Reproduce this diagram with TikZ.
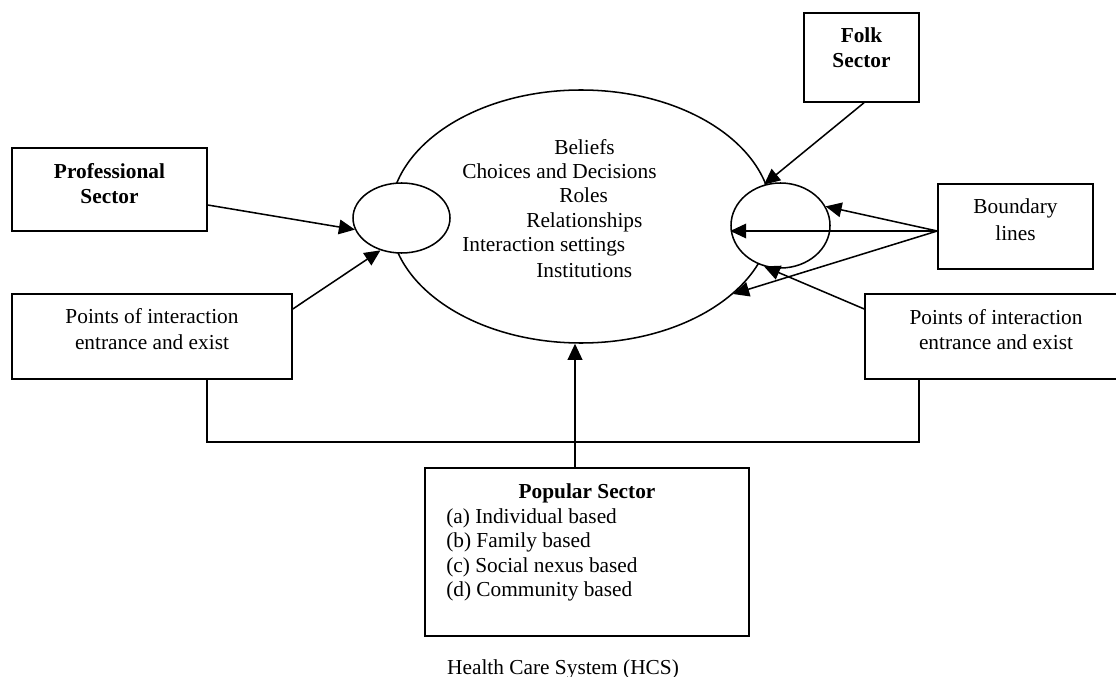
\documentclass[tikz,border=0pt]{standalone}
\usepackage{fontspec}
\setmainfont{Liberation Serif}
\usetikzlibrary{arrows.meta,shapes.geometric}
\begin{document}
\begin{tikzpicture}[x=0.75pt,y=-0.75pt,
  every node/.style={inner sep=0pt, font=\fontsize{16}{18.4}\selectfont},
  box/.style={draw, line width=1.15pt, rectangle},
  oval/.style={draw, line width=1.15pt, ellipse, fill=white},
  lbl/.style={anchor=base},
  lblw/.style={anchor=base west},
  bftext/.style={font=\fontsize{16}{18.4}\selectfont\bfseries},
  arr/.style={line width=1.15pt, -{Triangle[length=12pt,width=11pt]}},
  conn/.style={line width=1.15pt}]
\useasboundingbox (0,0) rectangle (1116,677);
\clip (0,0) rectangle (1116,677);

% ellipses
\node[oval, minimum width=286.5pt, minimum height=189.75pt] (be) at (581,216.5) {};
\node[oval, minimum width=72.75pt, minimum height=52.5pt] (le) at (401.5,218) {};
\node[oval, minimum width=74.25pt, minimum height=63.75pt] (re) at (780.5,225.5) {};

% boxes
\node[box, minimum width=146.25pt, minimum height=62.25pt] (prof) at (109.5,189.5) {};
\node[box, minimum width=210pt, minimum height=63.75pt] (lp) at (152,336.5) {};
\node[box, minimum width=86.25pt, minimum height=66.75pt] (folk) at (861.5,57.5) {};
\node[box, minimum width=116.25pt, minimum height=63.75pt] (bl) at (1015.5,226.5) {};
\node[box, minimum width=196.5pt, minimum height=63.75pt] (rp) at (996,336.5) {};
\node[box, minimum width=243pt, minimum height=126pt] (pop) at (587,552) {};

% texts
\node[lbl, bftext] (prof1) at (109.5,179) {Professional};
\node[lbl, bftext] (prof2) at (109.5,204) {Sector};
\node[lbl, bftext] (folk1) at (861.5,43) {Folk};
\node[lbl, bftext] (folk2) at (861.5,68) {Sector};
\node[lbl] (bl1) at (1015.5,214) {Boundary};
\node[lbl] (bl2) at (1015.5,241) {lines};
\node[lbl] (lp1) at (152,323) {Points of interaction};
\node[lbl] (lp2) at (152,349) {entrance and exist};
\node[lbl] (rp1) at (996,324) {Points of interaction};
\node[lbl] (rp2) at (996,349) {entrance and exist};

\node[lblw] (e1) at (554,155) {Beliefs};
\node[lblw] (e2) at (462,179) {Choices and Decisions};
\node[lblw] (e3) at (559,203) {Roles};
\node[lblw] (e4) at (526,228) {Relationships};
\node[lblw] (e5) at (462,252) {Interaction settings};
\node[lblw] (e6) at (536,277) {Institutions};

\node[lbl, bftext] (pop0) at (587,498) {Popular Sector};
\node[lblw] (pop1) at (446,523) {(a) Individual based};
\node[lblw] (pop2) at (446,547) {(b) Family based};
\node[lblw] (pop3) at (446,572) {(c) Social nexus based};
\node[lblw] (pop4) at (446,596) {(d) Community based};

\node[lbl] (hcs) at (563,674) {Health Care System (HCS)};

% connectors
\draw[arr] (prof.east |- 0,205) -- (le.194);
\draw[arr] (lp.east |- 0,309) -- (le.237);
\draw[arr] (folk.south -| 864,0) -- (re.112);
\coordinate (bls) at (bl.west |- 0,231);
\draw[arr] (bls) -- (re.23);
\draw[arr] (bls) -- (re.west |- bls);
\draw[arr] (bls) -- (be.333.3);
\draw[arr] (rp.west |- 0,309) -- (re.248);
\coordinate (pn) at (pop.north -| 575,0);
\draw[arr] (pn) -- (pn |- be.south);
\coordinate (lpd) at (lp.south -| 207,0);
\coordinate (rpd) at (rp.south -| 919,0);
\draw[conn] (lpd) |- (rpd |- 0,442) -- (rpd);
\end{tikzpicture}
\end{document}
